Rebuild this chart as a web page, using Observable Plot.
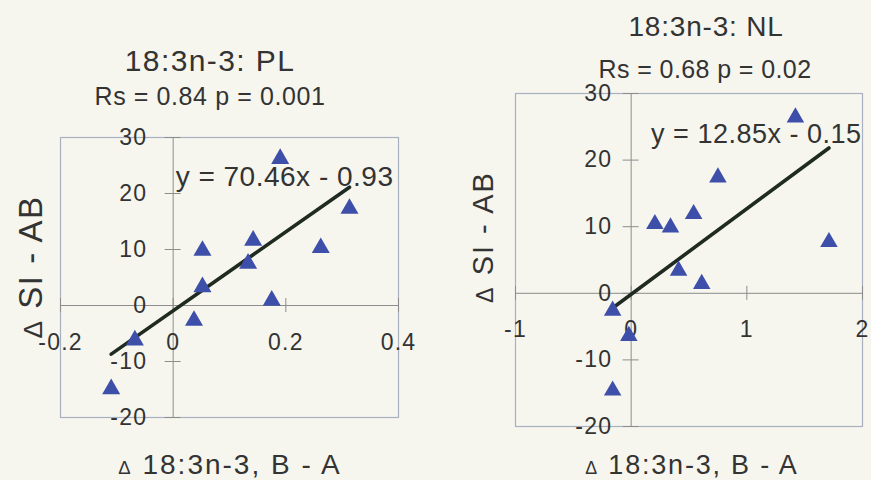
<!DOCTYPE html>
<html><head><meta charset="utf-8">
<script src="https://cdn.jsdelivr.net/npm/d3@7"></script>
<script src="https://cdn.jsdelivr.net/npm/@observablehq/plot@0.6"></script>
<style>
body{margin:0;background:#f6f6ef;}
#wrap{position:relative;width:871px;height:480px;overflow:hidden;font-family:"Liberation Sans",Arial,sans-serif;color:#333;background:#f6f6ef;}
.t{position:absolute;white-space:nowrap;line-height:1;transform:translateX(-50%);}
.yt{position:absolute;white-space:nowrap;line-height:1;transform:translate(-50%,-50%) rotate(-90deg);}
.d{font-size:0.66em;}
.yt .d{font-size:0.8em;}
.p{position:absolute;top:0;}
svg [aria-label$="tick label"]{letter-spacing:1.2px;}
svg [aria-label="text"]{letter-spacing:0.5px;}
</style></head><body><div id="wrap">
<div class="t" style="left:210px;top:46px;font-size:30px;letter-spacing:1.4px">18:3n-3: PL</div>
<div class="t" style="left:210px;top:84px;font-size:25px;letter-spacing:0.6px">Rs = 0.84 p = 0.001</div>
<div class="t" style="left:706px;top:13px;font-size:28px;letter-spacing:0.8px">18:3n-3: NL</div>
<div class="t" style="left:705px;top:57px;font-size:25px;letter-spacing:0.4px">Rs = 0.68 p = 0.02</div>
<div class="yt" style="left:30px;top:267px;font-size:33px;letter-spacing:1.5px"><span class="d">Δ</span> SI - AB</div>
<div class="yt" style="left:483px;top:237px;font-size:29px;letter-spacing:2px"><span class="d">Δ</span> SI - AB</div>
<div class="t" style="left:230px;top:451px;font-size:28px;letter-spacing:2px"><span class="d">Δ</span> 18:3n-3, B - A</div>
<div class="t" style="left:692px;top:452px;font-size:27px;letter-spacing:1.8px"><span class="d">Δ</span> 18:3n-3, B - A</div>
</div>
<script>
// Panel 1: 18:3n-3 PL
const plX = [0.19, 0.313, 0.142, 0.262, 0.052, 0.133, 0.052, 0.175, 0.037, -0.068, -0.11];
const plY = [26.2, 17.3, 11.6, 10.3, 9.8, 7.5, 3.3, 0.9, -2.7, -6.2, -14.9];
const plSlope = 70.46, plIntercept = -0.93;
const plEq = "y = 70.46x - 0.93";
const plXTicks = [-0.2, 0, 0.2, 0.4];

// Panel 2: 18:3n-3 NL
const nlX = [1.42, 0.75, 0.54, 0.205, 0.34, 1.71, 0.41, 0.61, -0.16, -0.02, -0.16];
const nlY = [26.4, 17.4, 11.9, 10.4, 9.9, 7.7, 3.4, 1.4, -2.6, -6.4, -14.6];
const nlSlope = 12.85, nlIntercept = -0.15;
const nlEq = "y = 12.85x - 0.15";
const nlXTicks = [-1, 0, 1, 2];

const yTicks = [-20, -10, 0, 10, 20, 30];

function panel(o) {
  const pts = o.xs.map((x, i) => ({x, y: o.ys[i]}));
  const ext = d3.extent(o.xs);
  const fit = ext.map(x => ({x, y: o.slope * x + o.intercept}));
  const pw = o.width - o.ml - o.mr, ph = 480 - o.mt - o.mb;
  const xd = [o.xTicks[0], o.xTicks[o.xTicks.length - 1]];
  const yd = [yTicks[0], yTicks[yTicks.length - 1]];
  const x0 = pw * (0 - xd[0]) / (xd[1] - xd[0]);
  const y0b = ph * (0 - yd[0]) / (yd[1] - yd[0]);
  return Plot.plot({
    width: o.width, height: 480,
    marginLeft: o.ml, marginRight: o.mr, marginTop: o.mt, marginBottom: o.mb,
    x: {domain: xd},
    y: {domain: yd},
    style: {background: "transparent", color: "#333", fontFamily: '"Liberation Sans", Arial, sans-serif', overflow: "visible"},
    marks: [
      Plot.frame({stroke: "#a9b1c0", strokeWidth: 1.2}),
      Plot.ruleX([0], {stroke: "#8d8d8d"}),
      Plot.ruleY([0], {stroke: "#8d8d8d"}),
      Plot.axisY(yTicks, {anchor: "left", dx: x0 + 8, tickSize: 16, tickPadding: o.ytp, fontSize: 23, stroke: "#8d8d8d", fill: "#333", label: null, tickFormat: d => String(d)}),
      Plot.axisX(o.xTicks, {anchor: "bottom", dy: -y0b - 7, tickSize: 14, tickPadding: o.xtp, fontSize: 23, stroke: "#8d8d8d", fill: "#333", label: null, tickFormat: d => String(d)}),
      Plot.line(fit, {x: "x", y: "y", stroke: "#1f2a20", strokeWidth: 3.6}),
      Plot.dot(pts, {x: "x", y: "y", symbol: "triangle", r: o.r, fill: "#3e4fa9"}),
      Plot.text([o.eq], {frameAnchor: "top-right", textAnchor: "end", lineAnchor: "bottom", dx: o.edx, dy: o.edy, fontSize: o.efs, fill: "#333"})
    ]
  });
}

const wrap = document.getElementById("wrap");
const p1 = panel({xs: plX, ys: plY, slope: plSlope, intercept: plIntercept, eq: plEq, xTicks: plXTicks,
  width: 435, ml: 60, mr: 37, mt: 137, mb: 63, ytp: 18, xtp: 21, r: 6.7, edx: -5, edy: 48, efs: 28});
const p2 = panel({xs: nlX, ys: nlY, slope: nlSlope, intercept: nlIntercept, eq: nlEq, xTicks: nlXTicks,
  width: 436, ml: 80, mr: 9, mt: 93, mb: 54, ytp: 11, xtp: 20, r: 6.5, edx: -1, edy: 49, efs: 27});
p1.classList.add("p"); p1.style.left = "0px";
p2.classList.add("p"); p2.style.left = "435px";
wrap.appendChild(p1);
wrap.appendChild(p2);
</script>
</body></html>
